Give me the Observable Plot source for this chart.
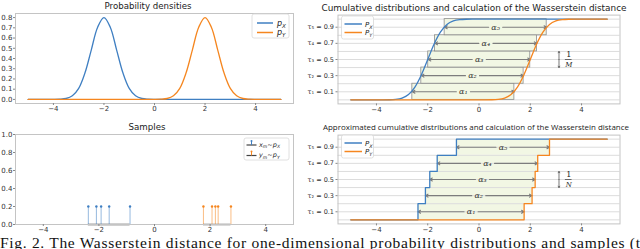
<!DOCTYPE html>
<html><head><meta charset="utf-8">
<script src="https://cdn.jsdelivr.net/npm/d3@7"></script>
<script src="https://cdn.jsdelivr.net/npm/@observablehq/plot@0.6"></script>
<style>
html,body{margin:0;padding:0;background:#fff;}
#root{position:relative;width:640px;height:249px;overflow:hidden;font-family:"DejaVu Sans",sans-serif;}
#root svg{position:absolute;}
</style></head><body><div id="root"></div>
<script>
const blue = "#3f7fc2", orange = "#f5861f";
// shared x grid for the smooth curves
const gridX = [-5,-4,-3.75,-3.5,-3.25,-3,-2.75,-2.5,-2.25,-2,-1.75,-1.5,-1.25,-1,-0.75,-0.5,-0.25,0,0.25,0.5,0.75,1,1.25,1.5,1.75,2,2.25,2.5,2.75,3,3.25,3.5,3.75,4,5];
const densX = [0,0,0.0018,0.0089,0.035,0.108,0.26,0.485,0.706,0.8,0.706,0.485,0.26,0.108,0.035,0.0089,0.0018,0,0,0,0,0,0,0,0,0,0,0,0,0,0,0,0,0,0];
const densY = [0,0,0,0,0,0,0,0,0,0,0,0,0,0,0,0,0,0,0.0018,0.0089,0.035,0.108,0.26,0.485,0.706,0.8,0.706,0.485,0.26,0.108,0.035,0.0089,0.0018,0,0];
const cdfX = [0,0,0.0002,0.0013,0.0062,0.0228,0.0668,0.1587,0.3085,0.5,0.6915,0.8413,0.9332,0.9772,0.9938,0.9987,0.9998,1,1,1,1,1,1,1,1,1,1,1,1,1,1,1,1,1,1];
const cdfY = [0,0,0,0,0,0,0,0,0,0,0,0,0,0,0,0,0,0,0.0002,0.0013,0.0062,0.0228,0.0668,0.1587,0.3085,0.5,0.6915,0.8413,0.9332,0.9772,0.9938,0.9987,0.9998,1,1];
// quantile levels
const tau = [0.1,0.3,0.5,0.7,0.9];
const tauNames = ["τ₁","τ₂","τ₃","τ₄","τ₅"];
const alphaNames = ["α₁","α₂","α₃","α₄","α₅"];
const quantX = [-2.6,-2.25,-1.98,-1.72,-1.34];
const quantY = [1.38,1.74,2.0,2.26,2.64];
const binHalf = 0.1;
// samples
const samplesX = [-2.38,-2.09,-1.92,-1.63,-0.88];
const samplesY = [1.76,2.07,2.19,2.29,2.75];
const stemHeight = 0.2;
const stepLevels = [0,0.2,0.4,0.6,0.8,1.0];
const xRange = [-5,5];
// ticks
const xTicks = [-4,-2,0,2,4];
const densTicks = [0,0.1,0.2,0.3,0.4,0.5,0.6,0.7,0.8];
const sampTicks = [0,0.2,0.4,0.6,0.8,1.0];
const gridLevels = [0,0.1,0.2,0.3,0.4,0.5,0.6,0.7,0.8,0.9,1.0];
// annotation "1/M", "1/N"
const annot = {x: 3.12, y1: 0.4, y2: 0.6, barX1: 3.37, barX2: 3.63};

const root = document.getElementById("root");
const idx = [0,1,2,3,4];
const fr = () => Plot.frame({stroke: "#c4c4c4"});
const ax = (opts) => Plot.axisX({ticks: xTicks, tickSize: 2, tickPadding: 1, fontSize: 7, stroke: "#888", label: null, ...opts});

function place(el, left, top) {
  el.style.left = left + "px"; el.style.top = top + "px";
  root.appendChild(el);
}
const baseStyle = {fontFamily: "DejaVu Sans", background: "transparent", overflow: "visible", color: "#333"};

// Top-left: densities
place(Plot.plot({
  width: 320, height: 120, marginLeft: 15, marginRight: 27, marginTop: 13, marginBottom: 17,
  x: {domain: [-5.5, 5.5]}, y: {domain: [-0.04, 0.84]}, style: baseStyle,
  marks: [
    fr(),
    Plot.line(gridX, {x: gridX, y: densX, stroke: blue, strokeWidth: 1.3, curve: "catmull-rom"}),
    Plot.line(gridX, {x: gridX, y: densY, stroke: orange, strokeWidth: 1.3, curve: "catmull-rom"}),
    ax(),
    Plot.axisY({ticks: densTicks, tickFormat: d3.format(".1f"), tickSize: 2, tickPadding: 1, fontSize: 7, stroke: "#888", label: null})
  ]
}), 0, 0);

function tauAxis() {
  return Plot.axisY({ticks: tau, tickFormat: d => `${tauNames[tau.indexOf(d)]} = ${d}`, tickSize: 2, tickPadding: 2, fontSize: 6.5, stroke: "#888", label: null});
}
function arrows(left, right) {
  const mid = i => (left[i] + right[i]) / 2;
  return [
    Plot.arrow(idx, {x1: mid, y1: i => tau[i], x2: i => left[i], y2: i => tau[i], insetStart: 7, headLength: 4, stroke: "#7d7d7d", strokeWidth: 1.1}),
    Plot.arrow(idx, {x1: mid, y1: i => tau[i], x2: i => right[i], y2: i => tau[i], insetStart: 7, headLength: 4, stroke: "#7d7d7d", strokeWidth: 1.1}),
    Plot.text(idx, {x: mid, y: i => tau[i], text: i => alphaNames[i], fontStyle: "italic", fontSize: 8, fill: "#333", fontFamily: "DejaVu Serif"})
  ];
}
function annotation(letter) {
  const mid = (annot.y1 + annot.y2) / 2;
  return [
    Plot.arrow([0], {x1: annot.x, x2: annot.x, y1: mid, y2: annot.y2, headLength: 3, stroke: "#555", strokeWidth: 0.8}),
    Plot.arrow([0], {x1: annot.x, x2: annot.x, y1: mid, y2: annot.y1, headLength: 3, stroke: "#555", strokeWidth: 0.8}),
    Plot.ruleY([mid], {x1: annot.barX1, x2: annot.barX2, stroke: "#333", strokeWidth: 0.7}),
    Plot.text(["1"], {x: (annot.barX1 + annot.barX2) / 2, y: mid, dy: -5, fontSize: 8, fill: "#222", fontFamily: "DejaVu Serif"}),
    Plot.text([letter], {x: (annot.barX1 + annot.barX2) / 2, y: mid, dy: 5, fontSize: 7, fontStyle: "italic", fill: "#222", fontFamily: "DejaVu Serif"})
  ];
}

// Top-right: CDFs
place(Plot.plot({
  width: 350, height: 120, marginLeft: 47.5, marginRight: 20.5, marginTop: 14.6, marginBottom: 16.6,
  x: {domain: [-5.5, 5.5]}, y: {domain: [-0.05, 1.05]}, style: baseStyle,
  marks: [
    Plot.gridY(gridLevels, {stroke: "#dcdcdc", strokeOpacity: 1}),
    Plot.rect(idx, {x1: i => quantX[i], x2: i => quantY[i], y1: i => tau[i] - binHalf, y2: i => tau[i] + binHalf, fill: "#f2f7e4", stroke: "#8c8c8c", strokeWidth: 0.8}),
    ...arrows(quantX, quantY),
    Plot.line(gridX, {x: gridX, y: cdfX, stroke: blue, strokeWidth: 1.3, curve: "monotone-x"}),
    Plot.line(gridX, {x: gridX, y: cdfY, stroke: orange, strokeWidth: 1.3, curve: "monotone-x"}),
    ...annotation("M"),
    fr(), ax(), tauAxis()
  ]
}), 290, 0);

// Bottom-left: samples
function stems(s, color) {
  return [
    Plot.ruleY([0], {x1: d3.min(s), x2: d3.max(s), stroke: "#444", strokeWidth: 1.4}),
    Plot.ruleX(s, {x: d => d, y1: 0, y2: stemHeight, stroke: color, strokeOpacity: 0.55, strokeWidth: 1}),
    Plot.dot(s, {x: d => d, y: stemHeight, r: 1.2, fill: color, stroke: null})
  ];
}
place(Plot.plot({
  width: 320, height: 129, marginLeft: 15, marginRight: 27, marginTop: 14, marginBottom: 25,
  x: {domain: [-5, 5]}, y: {domain: [0, 1]}, style: baseStyle,
  marks: [
    ...stems(samplesX, blue), ...stems(samplesY, orange),
    fr(), ax(),
    Plot.axisY({ticks: sampTicks, tickFormat: d3.format(".1f"), tickSize: 2, tickPadding: 1, fontSize: 7, stroke: "#888", label: null})
  ]
}), 0, 120);

// Bottom-right: empirical CDFs
const stepX = [xRange[0], ...samplesX, xRange[1]];
const stepY = [xRange[0], ...samplesY, xRange[1]];
const stepV = [...stepLevels, stepLevels[stepLevels.length - 1]];
place(Plot.plot({
  width: 350, height: 129, marginLeft: 47.5, marginRight: 20.5, marginTop: 14.6, marginBottom: 25.6,
  x: {domain: [-5.5, 5.5]}, y: {domain: [-0.05, 1.05]}, style: baseStyle,
  marks: [
    Plot.rect(idx, {x1: i => samplesX[i], x2: i => samplesY[i], y1: i => stepLevels[i], y2: i => stepLevels[i + 1], fill: "#f2f7e4"}),
    Plot.gridY(gridLevels, {stroke: "#dcdcdc", strokeOpacity: 1}),
    ...arrows(samplesX, samplesY),
    Plot.line(stepX, {x: stepX, y: stepV, stroke: blue, strokeWidth: 1.3, curve: "step-after"}),
    Plot.line(stepY, {x: stepY, y: stepV, stroke: orange, strokeWidth: 1.3, curve: "step-after"}),
    ...annotation("N"),
    fr(), ax(), tauAxis()
  ]
}), 290, 120);

// Overlay: titles, legends, caption
const ov = d3.select(root).append("svg").attr("width", 640).attr("height", 249).style("left", "0px").style("top", "0px");
function title(x, y, s, size, len, family) {
  const t = ov.append("text").attr("x", x).attr("y", y).attr("text-anchor", "middle").attr("font-size", size)
    .attr("font-family", family || "DejaVu Sans").attr("fill", "#222").text(s);
  if (len) t.attr("textLength", len).attr("lengthAdjust", "spacingAndGlyphs");
}
title(148, 9, "Probability densities", 9, 87);
title(474, 10.5, "Cumulative distributions and calculation of the Wasserstein distance", 9, 305);
title(147, 130, "Samples", 9, 37);
title(476, 129.5, "Approximated cumulative distributions and calculation of the Wasserstein distance", 8, 306, "Open Sans");

function math(x, y, parts, size) {
  const t = ov.append("text").attr("x", x).attr("y", y).attr("font-size", size).attr("font-family", "DejaVu Sans").attr("fill", "#222");
  let shift = 0;
  for (const [s, kind] of parts) {
    const sp = t.append("tspan").text(s);
    if (kind.includes("i")) sp.attr("font-style", "italic");
    const sub = kind.includes("s");
    const target = sub ? size * 0.3 : 0;
    sp.attr("dy", target - shift); shift = target;
    if (sub) sp.attr("font-size", size * 0.7);
  }
}
function legendBox(x, y, w, h) {
  ov.append("rect").attr("x", x).attr("y", y).attr("width", w).attr("height", h).attr("rx", 2)
    .attr("fill", "white").attr("fill-opacity", 0.85).attr("stroke", "#d8d8d8").attr("stroke-width", 0.8);
}
function legLine(x1, x2, y, c) {
  ov.append("line").attr("x1", x1).attr("x2", x2).attr("y1", y).attr("y2", y).attr("stroke", c).attr("stroke-width", 1.5);
}
// top-left legend
legendBox(252, 14, 37, 24);
legLine(257, 273, 23, blue); legLine(257, 273, 32.5, orange);
math(277, 25.5, [["p", "i"], ["X", "si"]], 8);
math(277, 35, [["p", "i"], ["Y", "si"]], 8);
// right legends
for (const top of [16, 135]) {
  legendBox(341.5, top, 32, 23);
  legLine(344.5, 362, top + 8, blue); legLine(344.5, 362, top + 16.5, orange);
  math(365, top + 10.5, [["P", "i"], ["X", "si"]], 7);
  math(365, top + 19, [["P", "i"], ["Y", "si"]], 7);
}
// samples legend
legendBox(244, 138, 45, 22);
for (const [yy, c, v] of [[145, blue, "x"], [155.5, orange, "y"]]) {
  ov.append("line").attr("x1", 246.5).attr("x2", 256.5).attr("y1", yy).attr("y2", yy).attr("stroke", "#444").attr("stroke-width", 1.2);
  ov.append("line").attr("x1", 251.5).attr("x2", 251.5).attr("y1", yy).attr("y2", yy - 4).attr("stroke", c).attr("stroke-width", 1);
  ov.append("circle").attr("cx", 251.5).attr("cy", yy - 4).attr("r", 1).attr("fill", c);
  math(259, yy + 1.5, [[v, "i"], ["m", "si"], ["∼", ""], ["p", "i"], [v === "x" ? "X" : "Y", "si"]], 6.5);
}
// caption (cut off at the bottom and right, justified wide)
ov.append("text").attr("x", 0).attr("y", 247.5).attr("font-size", 15.5).attr("font-family", "Liberation Serif").attr("fill", "#111")
  .attr("textLength", 640).attr("lengthAdjust", "spacing")
  .text("Fig. 2. The Wasserstein distance for one-dimensional probability distributions and samples (t");
</script></body></html>
